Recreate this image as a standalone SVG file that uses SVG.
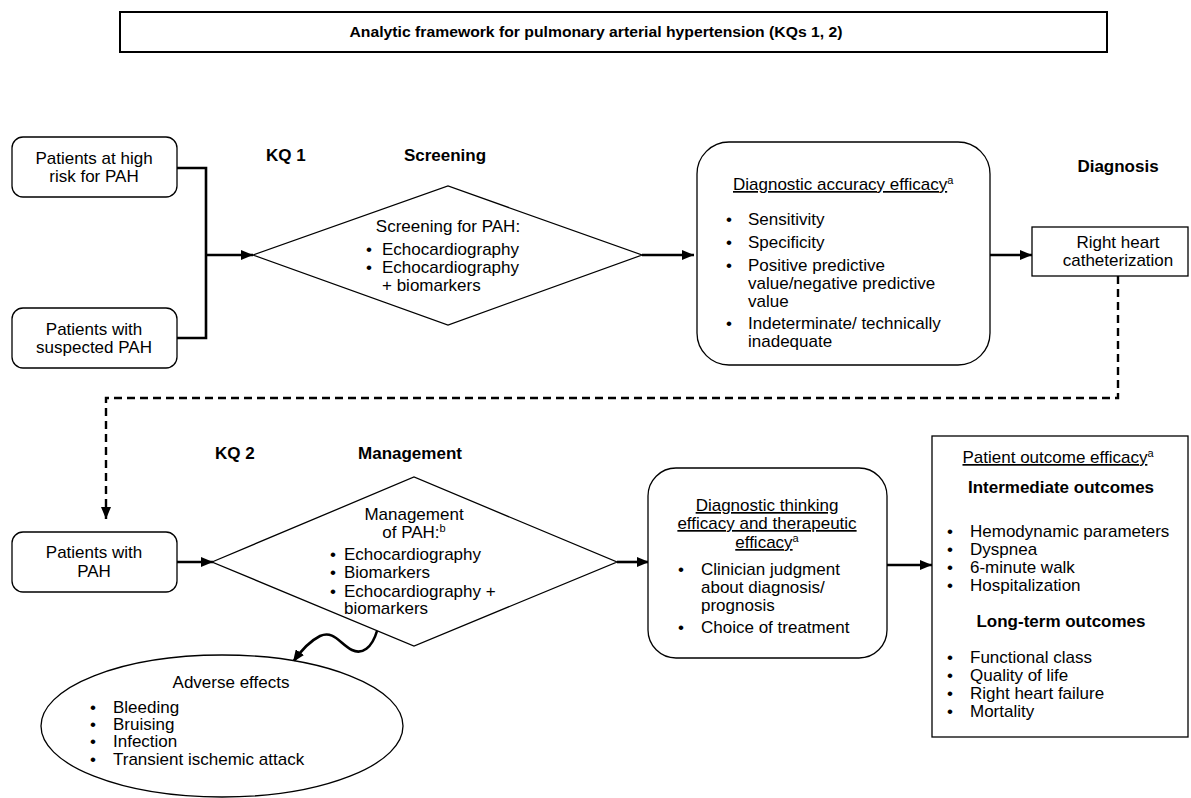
<svg xmlns="http://www.w3.org/2000/svg" width="1191" height="798" viewBox="0 0 1191 798">
<style>
text{font-family:"Liberation Sans",Arial,sans-serif;font-size:17px;fill:#000}
.b{font-weight:bold}
.m{text-anchor:middle}
.u{text-decoration:underline}
.shape{fill:#fff;stroke:#000;stroke-width:1.3}
.con{fill:none;stroke:#000;stroke-width:2.6}
.dash{fill:none;stroke:#000;stroke-width:2.4;stroke-dasharray:8 5}
.sup{font-size:11px}
</style>
<defs>
<marker id="ah" markerUnits="userSpaceOnUse" markerWidth="12" markerHeight="10" refX="12" refY="5" orient="auto">
<path d="M0,0 L12,5 L0,10 z" fill="#000"/>
</marker>
</defs>
<g id="title">
<rect x="120" y="12" width="987" height="40" fill="#fff" stroke="#000" stroke-width="2"/>
<text x="596" y="37" class="b m" style="font-size:14px" textLength="493" lengthAdjust="spacingAndGlyphs">Analytic framework for pulmonary arterial hypertension (KQs 1, 2)</text>
</g>
<g id="labels">
<text x="266" y="161" class="b">KQ 1</text>
<text x="445" y="161" class="b m">Screening</text>
<text x="1118" y="172" class="b m">Diagnosis</text>
<text x="215" y="459" class="b">KQ 2</text>
<text x="410" y="459" class="b m">Management</text>
</g>
<g id="connectors">
<path class="con" d="M177,168 H206 V338 H177"/>
<path class="con" d="M206,255 H253" marker-end="url(#ah)"/>
<path class="con" d="M642,255 H694" marker-end="url(#ah)"/>
<path class="con" d="M990,255 H1032" marker-end="url(#ah)"/>
<path class="dash" d="M1118,276 V398 H106 V519" marker-end="url(#ah)"/>
<path class="con" d="M177,562 H213" marker-end="url(#ah)"/>
<path class="con" d="M617,562 H649" marker-end="url(#ah)"/>
<path class="con" d="M887,565 H932" marker-end="url(#ah)"/>
<path class="con" d="M377,631 C372,648 362,655 352,650 C340,644 334,630 320,636 C310,641 300,652 293,662" marker-end="url(#ah)"/>
</g>
<g id="n-highrisk">
<rect class="shape" x="12" y="137" width="165" height="60" rx="11"/>
<text x="94" y="164" class="m">Patients at high</text>
<text x="94" y="182" class="m">risk for PAH</text>
</g>
<g id="n-suspected">
<rect class="shape" x="12" y="308" width="165" height="60" rx="11"/>
<text x="94" y="335" class="m">Patients with</text>
<text x="94" y="353" class="m">suspected PAH</text>
</g>
<g id="n-screening">
<polygon class="shape" points="253,255 448,186 642,255 448,325"/>
<text x="448" y="232" class="m">Screening for PAH:</text>
<text x="366" y="255">•</text><text x="382" y="255">Echocardiography</text>
<text x="366" y="273">•</text><text x="382" y="273">Echocardiography</text>
<text x="382" y="291">+ biomarkers</text>
</g>
<g id="n-accuracy">
<rect class="shape" x="697" y="142" width="293" height="223" rx="32"/>
<text x="733" y="190"><tspan class="u">Diagnostic accuracy efficacy</tspan><tspan class="sup" dy="-6">a</tspan></text>
<text x="726" y="225">•</text><text x="748" y="225">Sensitivity</text>
<text x="726" y="248">•</text><text x="748" y="248">Specificity</text>
<text x="726" y="271">•</text><text x="748" y="271">Positive predictive</text>
<text x="748" y="289">value/negative predictive</text>
<text x="748" y="307">value</text>
<text x="726" y="329">•</text><text x="748" y="329">Indeterminate/ technically</text>
<text x="748" y="347">inadequate</text>
</g>
<g id="n-rhc">
<rect class="shape" x="1032" y="227" width="156" height="49"/>
<text x="1118" y="248" class="m">Right heart</text>
<text x="1118" y="266" class="m">catheterization</text>
</g>
<g id="n-pah">
<rect class="shape" x="12" y="532" width="165" height="60" rx="11"/>
<text x="94" y="558" class="m">Patients with</text>
<text x="94" y="577" class="m">PAH</text>
</g>
<g id="n-management">
<polygon class="shape" points="212,562 414,477 617,562 414,646"/>
<text x="414" y="520" class="m">Management</text>
<text x="414" y="538" class="m">of PAH:<tspan class="sup" dy="-6">b</tspan></text>
<text x="330" y="560">•</text><text x="344" y="560">Echocardiography</text>
<text x="330" y="578">•</text><text x="344" y="578">Biomarkers</text>
<text x="330" y="597">•</text><text x="344" y="597">Echocardiography +</text>
<text x="344" y="614">biomarkers</text>
</g>
<g id="n-thinking">
<rect class="shape" x="648" y="468" width="239" height="190" rx="28"/>
<text x="767" y="511" class="m u">Diagnostic thinking</text>
<text x="767" y="529" class="m u">efficacy and therapeutic</text>
<text x="767" y="548" class="m"><tspan class="u">efficacy</tspan><tspan class="sup" dy="-6">a</tspan></text>
<text x="678" y="575">•</text><text x="701" y="575">Clinician judgment</text>
<text x="701" y="593">about  diagnosis/</text>
<text x="701" y="611">prognosis</text>
<text x="678" y="633">•</text><text x="701" y="633">Choice of treatment</text>
</g>
<g id="n-outcomes">
<rect class="shape" x="932" y="436" width="256" height="301"/>
<text x="1058" y="463" class="m"><tspan class="u">Patient outcome efficacy</tspan><tspan class="sup" dy="-6">a</tspan></text>
<text x="1061" y="493" class="b m">Intermediate outcomes</text>
<text x="947" y="537">•</text><text x="970" y="537">Hemodynamic parameters</text>
<text x="947" y="555">•</text><text x="970" y="555">Dyspnea</text>
<text x="947" y="573">•</text><text x="970" y="573">6-minute walk</text>
<text x="947" y="591">•</text><text x="970" y="591">Hospitalization</text>
<text x="1061" y="627" class="b m">Long-term outcomes</text>
<text x="947" y="663">•</text><text x="970" y="663">Functional class</text>
<text x="947" y="681">•</text><text x="970" y="681">Quality of life</text>
<text x="947" y="699">•</text><text x="970" y="699">Right heart failure</text>
<text x="947" y="717">•</text><text x="970" y="717">Mortality</text>
</g>
<g id="n-adverse">
<ellipse class="shape" cx="222" cy="726" rx="181" ry="71"/>
<text x="231" y="688" class="m">Adverse effects</text>
<text x="90" y="713">•</text><text x="113" y="713">Bleeding</text>
<text x="90" y="730">•</text><text x="113" y="730">Bruising</text>
<text x="90" y="747">•</text><text x="113" y="747">Infection</text>
<text x="90" y="765">•</text><text x="113" y="765">Transient ischemic attack</text>
</g>
</svg>
